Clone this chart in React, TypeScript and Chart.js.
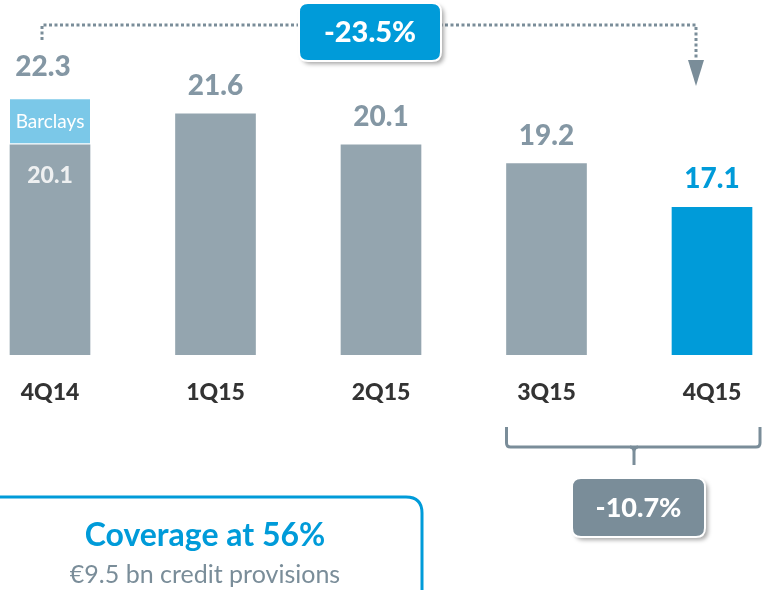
import React, { useEffect, useRef } from "react";
import { Chart, registerables } from "chart.js";

Chart.register(...registerables);

const categories = ["4Q14", "1Q15", "2Q15", "3Q15", "4Q15"];
const baseValues = [20.1, 21.6, 20.1, 19.2, 17.1];
const barclaysValues = [2.2, null, null, null, null];
const totalLabels = ["22.3", "21.6", "20.1", "19.2", "17.1"];
const innerLabel = "20.1";
const barclaysLabel = "Barclays";
const changeTotal = "-23.5%";
const changeQuarter = "-10.7%";
const coverageTitle = "Coverage at 56%";
const coverageSub = "€9.5 bn credit provisions";

const GREY = "#94A5AF";
const BLUE = "#009BD9";
const LIGHT_BLUE = "#7BC8E8";
const LABEL_GREY = "#8497A4";
const DARK_GREY = "#7A8D99";
const FONT = "Lato, 'Open Sans', sans-serif";
const HEAVY = "900";

function roundRect(ctx: CanvasRenderingContext2D, x: number, y: number, w: number, h: number, r: number) {
  ctx.beginPath();
  ctx.moveTo(x + r, y);
  ctx.lineTo(x + w - r, y);
  ctx.quadraticCurveTo(x + w, y, x + w, y + r);
  ctx.lineTo(x + w, y + h - r);
  ctx.quadraticCurveTo(x + w, y + h, x + w - r, y + h);
  ctx.lineTo(x + r, y + h);
  ctx.quadraticCurveTo(x, y + h, x, y + h - r);
  ctx.lineTo(x, y + r);
  ctx.quadraticCurveTo(x, y, x + r, y);
  ctx.closePath();
}

function badge(ctx: CanvasRenderingContext2D, x: number, y: number, w: number, h: number, fill: string, text: string, size: number) {
  ctx.save();
  ctx.shadowColor = "rgba(0,0,0,0.35)";
  ctx.shadowOffsetX = 3;
  ctx.shadowOffsetY = 3;
  ctx.shadowBlur = 4;
  roundRect(ctx, x, y, w, h, 9);
  ctx.fillStyle = fill;
  ctx.fill();
  ctx.restore();
  ctx.save();
  roundRect(ctx, x, y, w, h, 9);
  ctx.strokeStyle = "#ffffff";
  ctx.lineWidth = 2;
  ctx.stroke();
  ctx.fillStyle = "#ffffff";
  ctx.font = `${HEAVY} ${size}px ${FONT}`;
  ctx.textAlign = "center";
  ctx.textBaseline = "middle";
  ctx.fillText(text, x + w / 2, y + h / 2 + 1);
  ctx.restore();
}

const annotationPlugin = {
  id: "annotations",
  afterDatasetsDraw(chart: any) {
    const ctx: CanvasRenderingContext2D = chart.ctx;
    const xs = chart.scales.x;
    const ys = chart.scales.y;
    ctx.save();
    ctx.textAlign = "center";
    ctx.textBaseline = "middle";
    categories.forEach((c, i) => {
      const total = baseValues[i] + (barclaysValues[i] || 0);
      const cx = xs.getPixelForValue(i);
      const top = ys.getPixelForValue(total);
      ctx.font = `${HEAVY} 28px ${FONT}`;
      ctx.fillStyle = i === categories.length - 1 ? BLUE : LABEL_GREY;
      ctx.fillText(totalLabels[i], i === 0 ? cx - 7 : cx, top - (i === 0 ? 32 : 28));
      ctx.font = `${HEAVY} 23px ${FONT}`;
      ctx.fillStyle = "#333333";
      ctx.fillText(c, cx, 393);
    });
    const c0 = xs.getPixelForValue(0);
    ctx.font = `19px ${FONT}`;
    ctx.fillStyle = "#ffffff";
    const bTop = ys.getPixelForValue(baseValues[0] + (barclaysValues[0] || 0));
    const bBot = ys.getPixelForValue(baseValues[0]);
    ctx.fillText(barclaysLabel, c0, (bTop + bBot) / 2);
    ctx.font = `${HEAVY} 23px ${FONT}`;
    ctx.fillStyle = "#EEF0F1";
    ctx.fillText(innerLabel, c0, bBot + 31);

    // dotted arrow
    const c4 = xs.getPixelForValue(4);
    ctx.strokeStyle = DARK_GREY;
    ctx.lineWidth = 3;
    ctx.setLineDash([3, 2.5]);
    ctx.beginPath();
    ctx.moveTo(c0 - 8, 40);
    ctx.lineTo(c0 - 8, 25);
    ctx.lineTo(c4 - 16, 25);
    ctx.lineTo(c4 - 16, 62);
    ctx.stroke();
    ctx.setLineDash([]);
    ctx.fillStyle = DARK_GREY;
    ctx.beginPath();
    ctx.moveTo(c4 - 24, 60);
    ctx.lineTo(c4 - 8, 60);
    ctx.lineTo(c4 - 16, 86);
    ctx.closePath();
    ctx.fill();

    badge(ctx, 299, 3, 142, 58, BLUE, changeTotal, 29);

    // bracket
    const l3 = xs.getPixelForValue(3) - 40;
    const r4 = c4 + 48;
    const mid = 634;
    ctx.strokeStyle = DARK_GREY;
    ctx.lineWidth = 3;
    ctx.lineJoin = "round";
    ctx.beginPath();
    ctx.moveTo(l3, 427);
    ctx.lineTo(l3, 443);
    ctx.quadraticCurveTo(l3, 447, l3 + 4, 447);
    ctx.lineTo(r4 - 4, 447);
    ctx.quadraticCurveTo(r4, 447, r4, 443);
    ctx.lineTo(r4, 427);
    ctx.stroke();
    ctx.beginPath();
    ctx.moveTo(mid - 4, 447);
    ctx.quadraticCurveTo(mid, 447, mid, 452);
    ctx.lineTo(mid, 465);
    ctx.moveTo(mid + 4, 447);
    ctx.quadraticCurveTo(mid, 447, mid, 452);
    ctx.stroke();

    badge(ctx, 572, 478, 133, 59, DARK_GREY, changeQuarter, 27);

    // coverage box
    ctx.save();
    roundRect(ctx, -20, 497, 442, 140, 16);
    ctx.strokeStyle = BLUE;
    ctx.lineWidth = 3;
    ctx.stroke();
    ctx.restore();
    ctx.textAlign = "center";
    ctx.font = `bold 32px ${FONT}`;
    ctx.fillStyle = BLUE;
    ctx.fillText(coverageTitle, 205, 536);
    ctx.font = `25px ${FONT}`;
    ctx.fillStyle = DARK_GREY;
    ctx.fillText(coverageSub, 205, 575);
    ctx.restore();
  },
};

export default function App() {
  const ref = useRef<HTMLCanvasElement | null>(null);
  useEffect(() => {
    document.body.style.margin = "0";
    const chart = new Chart(ref.current as HTMLCanvasElement, {
      type: "bar",
      data: {
        labels: categories,
        datasets: [
          {
            data: baseValues,
            backgroundColor: categories.map((_, i) => (i === categories.length - 1 ? BLUE : GREY)),
            barThickness: 80,
            borderWidth: 0,
            clip: { left: false, right: false, top: false, bottom: 0 } as any,
          },
          {
            data: barclaysValues as any,
            backgroundColor: LIGHT_BLUE,
            borderColor: "#ffffff",
            borderWidth: { top: 0, left: 0, right: 0, bottom: 2 } as any,
            borderSkipped: false,
            barThickness: 80,
            clip: { left: false, right: false, top: false, bottom: 0 } as any,
          },
        ],
      },
      options: {
        animation: false,
        responsive: false,
        maintainAspectRatio: false,
        layout: { padding: { left: 50, right: 50, top: 43, bottom: 235 } },
        plugins: { legend: { display: false }, tooltip: { enabled: false } },
        scales: {
          x: { display: false, offset: false, stacked: true },
          y: { display: false, stacked: true, min: 10, max: 25 },
        },
      },
      plugins: [annotationPlugin],
    });
    return () => chart.destroy();
  }, []);
  return (
    <div style={{ width: 762, height: 590, position: "relative" }}>
      <canvas ref={ref} width={762} height={590} style={{ width: 762, height: 590, display: "block" }} />
    </div>
  );
}
